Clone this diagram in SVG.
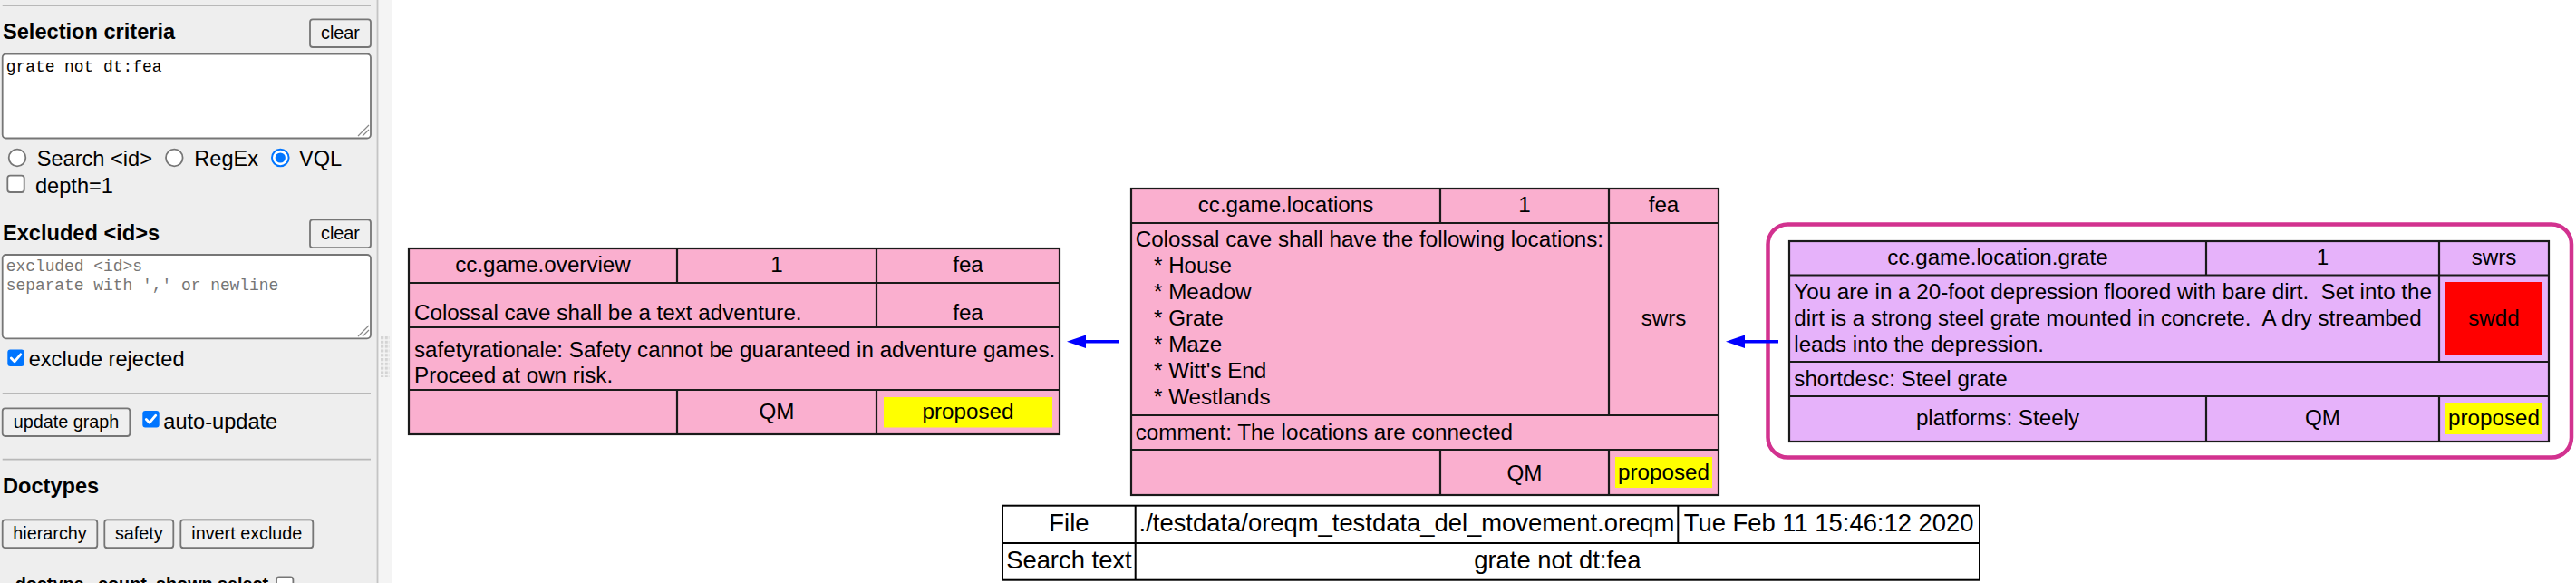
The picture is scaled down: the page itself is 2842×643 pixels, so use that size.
<svg xmlns="http://www.w3.org/2000/svg" width="2842" height="643" viewBox="0 0 2842 643">
<style>
.ui{font-family:"Liberation Sans",Arial,sans-serif;font-size:23.6px;fill:#000}
.hd{font-family:"Liberation Sans",Arial,sans-serif;font-size:23.6px;font-weight:bold;fill:#000}
.th{font-family:"Liberation Sans",Arial,sans-serif;font-size:19.8px;font-weight:bold;fill:#000}
.bt{font-family:"Liberation Sans",Arial,sans-serif;font-size:19.8px;fill:#000;text-anchor:middle}
.mono{font-family:"Liberation Mono","Courier New",monospace;font-size:17.9px;fill:#000}
.ph{fill:#757575}
.btn{fill:#efefef;stroke:#767676;stroke-width:1.8}
.ta{fill:#fff;stroke:#767676;stroke-width:1.8}
.hr{stroke:#b8b8b8;stroke-width:1.8}
.cbu{fill:#fff;stroke:#767676;stroke-width:1.8}
.cbc{fill:#0075ff}
.chk{fill:none;stroke:#fff;stroke-width:2.8;stroke-linecap:round;stroke-linejoin:round}
.t{font-family:"Liberation Sans",Arial,sans-serif;font-size:24.2px;fill:#000}
.c{text-anchor:middle}
.pink{fill:#faafcf;stroke:#1a1a1a;stroke-width:2.2}
.lav{fill:#e6b2fa;stroke:#1a1a1a;stroke-width:2.2}
.ln{stroke:#1a1a1a;stroke-width:2.2}
.yel{fill:#ffff00}
.red{fill:#ff0000}
.cl{fill:none;stroke:#d2328f;stroke-width:4.5}
.edge{stroke:#0000ff;stroke-width:3.6;fill:none}
.ft{font-family:"Liberation Sans",Arial,sans-serif;font-size:27.4px;fill:#000}
.ftab{fill:#fff;stroke:#000;stroke-width:2}
.fl{stroke:#000;stroke-width:2}
</style>
<defs>
<marker id="ah" viewBox="0 0 21 14.6" refX="0" refY="7.3" markerWidth="21" markerHeight="14.6" markerUnits="userSpaceOnUse" orient="auto">
<path d="M0,0 L21,7.3 L0,14.6 z" fill="#0000ff"/>
</marker>
<pattern id="grip" x="420" y="371" width="4.8" height="4.8" patternUnits="userSpaceOnUse">
<rect x="0" y="0" width="3.2" height="3.2" fill="#d4d4d4"/>
</pattern>
</defs>
<rect x="0" y="0" width="2842" height="643" fill="#fff"/>

<g id="sidebar">
<rect x="0" y="0" width="416" height="643" fill="#eeeeee"/>
<rect x="416" y="0" width="16" height="643" fill="#f4f4f4"/>
<line x1="416.5" y1="0" x2="416.5" y2="643" stroke="#c4c4c4" stroke-width="1.8"/>
<rect x="420" y="371" width="10" height="45" fill="url(#grip)"/>
<line class="hr" x1="2.7" y1="6" x2="409" y2="6"/>
<text class="hd" x="3" y="43">Selection criteria</text>
<rect class="btn" x="342" y="21.3" width="67" height="30.7" rx="3"/>
<text class="bt" x="375.5" y="43">clear</text>
<rect class="ta" x="2.7" y="59.5" width="406.3" height="93" rx="4"/>
<text class="mono" x="6.7" y="79">grate not dt:fea</text>
<path d="M395,150 L407,138 M400,150 L407,143" stroke="#888" stroke-width="1.2"/>
<circle class="cbu" cx="19" cy="174" r="9.3"/>
<text class="ui" x="40.7" y="182.5">Search &lt;id&gt;</text>
<circle class="cbu" cx="192.3" cy="174" r="9.3"/>
<text class="ui" x="214.3" y="182.5">RegEx</text>
<circle cx="309.3" cy="174" r="9.3" fill="#fff" stroke="#0075ff" stroke-width="2"/>
<circle cx="309.3" cy="174" r="5.6" fill="#0075ff"/>
<text class="ui" x="330" y="182.5">VQL</text>
<rect class="cbu" x="8.3" y="193.6" width="18.4" height="18.4" rx="3"/>
<text class="ui" x="39" y="213">depth=1</text>
<text class="hd" x="3" y="264.6">Excluded &lt;id&gt;s</text>
<rect class="btn" x="342" y="242.4" width="67" height="30.8" rx="3"/>
<text class="bt" x="375.5" y="264">clear</text>
<rect class="ta" x="2.7" y="281" width="406.3" height="92.3" rx="4"/>
<text class="mono ph" x="6.7" y="299.4">excluded &lt;id&gt;s</text>
<text class="mono ph" x="6.7" y="320" xml:space="preserve">separate with ',' or newline</text>
<path d="M395,371 L407,359 M400,371 L407,364" stroke="#888" stroke-width="1.2"/>
<rect class="cbc" x="8.3" y="385.6" width="18.4" height="18.4" rx="3"/>
<path class="chk" d="M12.3,395.1 L16,398.8 L22.8,390.8"/>
<text class="ui" x="31.7" y="404">exclude rejected</text>
<line class="hr" x1="2.7" y1="434" x2="409" y2="434"/>
<rect class="btn" x="2.7" y="450.4" width="140.6" height="30.6" rx="3"/>
<text class="bt" x="73" y="471.5">update graph</text>
<rect class="cbc" x="157.3" y="453" width="18.4" height="18.4" rx="3"/>
<path class="chk" d="M161.3,462.5 L165,466.2 L171.8,458.2"/>
<text class="ui" x="180.3" y="473">auto-update</text>
<line class="hr" x1="2.7" y1="506.6" x2="409" y2="506.6"/>
<text class="hd" x="3" y="543.5">Doctypes</text>
<rect class="btn" x="2.7" y="573.4" width="104.6" height="30.8" rx="3"/>
<text class="bt" x="55" y="594.7">hierarchy</text>
<rect class="btn" x="115.3" y="573.4" width="76" height="30.8" rx="3"/>
<text class="bt" x="153.3" y="594.7">safety</text>
<rect class="btn" x="199.3" y="573.4" width="146" height="30.8" rx="3"/>
<text class="bt" x="272.3" y="594.7">invert exclude</text>
<text class="th" x="16.7" y="651">doctype</text>
<text class="th" x="108" y="651">count</text>
<text class="th" x="172" y="651">shown</text>
<text class="th" x="240" y="651">select</text>
<rect class="cbu" x="305" y="636.5" width="18.4" height="18.4" rx="3"/>
</g>

<g id="cluster_grate">
<rect class="cl" x="1950.5" y="247.5" width="886.5" height="257" rx="22"/>
</g>

<g id="node_cc.game.overview">
<rect class="pink" x="451" y="274" width="718" height="205"/>
<line class="ln" x1="451" y1="312" x2="1169" y2="312"/>
<line class="ln" x1="451" y1="361" x2="1169" y2="361"/>
<line class="ln" x1="451" y1="430" x2="1169" y2="430"/>
<line class="ln" x1="747" y1="274" x2="747" y2="312"/>
<line class="ln" x1="967" y1="274" x2="967" y2="361"/>
<line class="ln" x1="747" y1="430" x2="747" y2="479"/>
<line class="ln" x1="967" y1="430" x2="967" y2="479"/>
<rect class="yel" x="975" y="438" width="186" height="33.5"/>
<text class="t c" x="599" y="299.5">cc.game.overview</text>
<text class="t c" x="857" y="299.5">1</text>
<text class="t c" x="1068" y="299.5">fea</text>
<text class="t" x="457" y="353">Colossal cave shall be a text adventure.</text>
<text class="t c" x="1068" y="353">fea</text>
<text class="t" x="457" y="393.5">safetyrationale: Safety cannot be guaranteed in adventure games.</text>
<text class="t" x="457" y="422">Proceed at own risk.</text>
<text class="t c" x="857" y="462">QM</text>
<text class="t c" x="1068" y="462">proposed</text>
</g>

<g id="node_cc.game.locations">
<rect class="pink" x="1248" y="208" width="648" height="338"/>
<line class="ln" x1="1248" y1="246" x2="1896" y2="246"/>
<line class="ln" x1="1248" y1="458" x2="1896" y2="458"/>
<line class="ln" x1="1248" y1="496" x2="1896" y2="496"/>
<line class="ln" x1="1589" y1="208" x2="1589" y2="246"/>
<line class="ln" x1="1775" y1="208" x2="1775" y2="458"/>
<line class="ln" x1="1589" y1="496" x2="1589" y2="546"/>
<line class="ln" x1="1775" y1="496" x2="1775" y2="546"/>
<rect class="yel" x="1782" y="504" width="107" height="34"/>
<text class="t c" x="1418.5" y="234">cc.game.locations</text>
<text class="t c" x="1682" y="234">1</text>
<text class="t c" x="1835.5" y="234">fea</text>
<text class="t" x="1252.7" y="272">Colossal cave shall have the following locations:</text>
<text class="t" x="1273" y="301">* House</text>
<text class="t" x="1273" y="330">* Meadow</text>
<text class="t" x="1273" y="359">* Grate</text>
<text class="t" x="1273" y="388">* Maze</text>
<text class="t" x="1273" y="417">* Witt's End</text>
<text class="t" x="1273" y="446">* Westlands</text>
<text class="t c" x="1835.5" y="359">swrs</text>
<text class="t" x="1252.7" y="485">comment: The locations are connected</text>
<text class="t c" x="1682" y="530">QM</text>
<text class="t c" x="1835.5" y="529">proposed</text>
</g>

<g id="node_cc.game.location.grate">
<rect class="lav" x="1974" y="266" width="838" height="221"/>
<line class="ln" x1="1974" y1="303.5" x2="2812" y2="303.5"/>
<line class="ln" x1="1974" y1="399" x2="2812" y2="399"/>
<line class="ln" x1="1974" y1="437" x2="2812" y2="437"/>
<line class="ln" x1="2434" y1="266" x2="2434" y2="303.5"/>
<line class="ln" x1="2691" y1="266" x2="2691" y2="399"/>
<line class="ln" x1="2434" y1="437" x2="2434" y2="487"/>
<line class="ln" x1="2691" y1="437" x2="2691" y2="487"/>
<rect class="red" x="2698" y="311" width="106" height="80"/>
<rect class="yel" x="2698" y="445" width="106" height="34"/>
<text class="t c" x="2204" y="292">cc.game.location.grate</text>
<text class="t c" x="2562.5" y="292">1</text>
<text class="t c" x="2751.5" y="292">swrs</text>
<text class="t" x="1979.3" y="330" xml:space="preserve">You are in a 20-foot depression floored with bare dirt.  Set into the</text>
<text class="t" x="1979.3" y="359" xml:space="preserve">dirt is a strong steel grate mounted in concrete.  A dry streambed</text>
<text class="t" x="1979.3" y="388">leads into the depression.</text>
<text class="t c" x="2751.5" y="359">swdd</text>
<text class="t" x="1979.3" y="425.7">shortdesc: Steel grate</text>
<text class="t c" x="2204" y="469">platforms: Steely</text>
<text class="t c" x="2562.5" y="469">QM</text>
<text class="t c" x="2751.5" y="469">proposed</text>
</g>

<g id="graph_label">
<rect class="ftab" x="1106" y="557.7" width="1078" height="82"/>
<line class="fl" x1="1106" y1="599" x2="2184" y2="599"/>
<line class="fl" x1="1252.7" y1="557.7" x2="1252.7" y2="639.7"/>
<line class="fl" x1="1851.3" y1="557.7" x2="1851.3" y2="599"/>
<text class="ft c" x="1179.4" y="586">File</text>
<text class="ft c" x="1552" y="586">./testdata/oreqm_testdata_del_movement.oreqm</text>
<text class="ft c" x="2017.6" y="586">Tue Feb 11 15:46:12 2020</text>
<text class="ft c" x="1179.4" y="626.5">Search text</text>
<text class="ft c" x="1718.4" y="626.5">grate not dt:fea</text>
</g>

<g id="connectors">
<line class="edge" x1="1235" y1="376.7" x2="1198" y2="376.7" marker-end="url(#ah)"/>
<line class="edge" x1="1962" y1="376.7" x2="1925" y2="376.7" marker-end="url(#ah)"/>
</g>
</svg>
